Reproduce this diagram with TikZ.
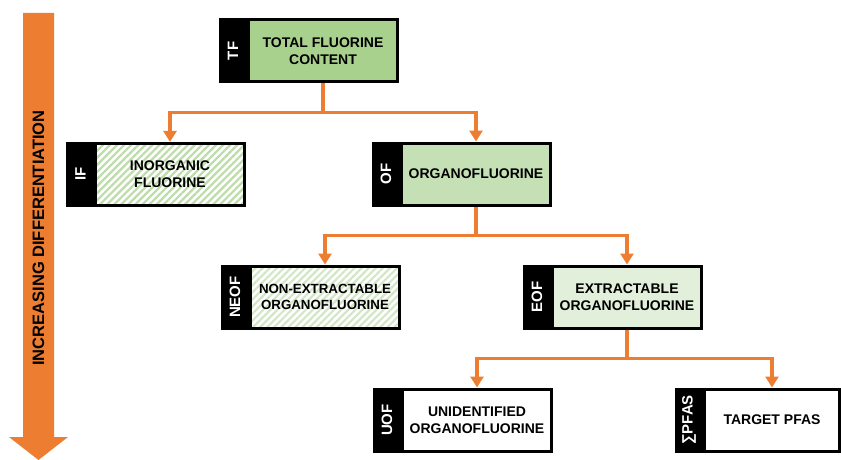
\documentclass[tikz,border=0pt]{standalone}
\usepackage{fontspec}
\setmainfont{Liberation Sans}
\usetikzlibrary{arrows.meta,patterns.meta}
\definecolor{arroworange}{HTML}{ED7D31}
\definecolor{darkgreen}{HTML}{A9D18E}
\definecolor{midgreen}{HTML}{C5E0B4}
\definecolor{palegreen}{HTML}{E2EFDA}
\definecolor{hatchgreen}{HTML}{BCDCA8}
\definecolor{hatchpale}{HTML}{D3E7C6}

\begin{document}
\begin{tikzpicture}[
			font=\bfseries\fontsize{14}{17}\selectfont,
			level distance=123pt,
			level 1/.style={sibling distance=306pt},
			level 2/.style={sibling distance=302pt},
			level 3/.style={sibling distance=300pt},
			box/.style={draw=black,line width=3pt,minimum width=149pt,minimum height=62pt,align=center,inner sep=2pt},
			tab/.style={label={[tablabel]left:\rotatebox{90}{#1}}},
			tablabel/.style={fill=black,text=white,minimum width=28pt,minimum height=65pt,inner sep=0pt,outer sep=0pt,font=\bfseries\fontsize{15}{17}\selectfont},
			hatch/.style={pattern={Lines[angle=45,distance=5pt,line width=2.2pt]},pattern color=#1},
			edge from parent/.style={draw=arroworange,line width=3.2pt,-{Triangle[width=13pt,length=11pt]}},
			edge from parent path={(\tikzparentnode.south) -- ++(0,-29pt) -| (\tikzchildnode.north)}
		]
		\useasboundingbox (0,0) rectangle (841pt,-460pt);
		% trend arrow
		\fill[arroworange] (23pt,-13pt) -- (54pt,-13pt) -- (54pt,-437pt) -- (68pt,-437pt)
			-- (38.5pt,-460pt) -- (9pt,-437pt) -- (23pt,-437pt) -- cycle;
		\node[rotate=90,font=\bfseries\fontsize{16.5}{20}\selectfont] (trend) at (38.5pt,-238pt) {INCREASING DIFFERENTIATION};
		% fluorine tree
		\node[box,tab=TF,fill=darkgreen] (tf) at (323pt,-51pt) {TOTAL FLUORINE\\CONTENT}
		child {node[box,tab=IF,hatch=hatchgreen] (if) {INORGANIC\\FLUORINE}}
		child {
				node[box,tab=OF,fill=midgreen] (of) {ORGANOFLUORINE}
				child {node[box,tab=NEOF,hatch=hatchpale,font=\bfseries\fontsize{13.3}{16.5}\selectfont] (neof) {NON-EXTRACTABLE\\ORGANOFLUORINE}}
				child {
						node[box,tab=EOF,fill=palegreen] (eof) {EXTRACTABLE\\ORGANOFLUORINE}
						child {node[box,tab=UOF,fill=white] (uof) {UNIDENTIFIED\\ORGANOFLUORINE}}
						child {node[box,tab=∑PFAS,fill=white,minimum width=135pt,xshift=-5pt] (pfas) {TARGET PFAS}}
					}
			};
	\end{tikzpicture}
\end{document}
